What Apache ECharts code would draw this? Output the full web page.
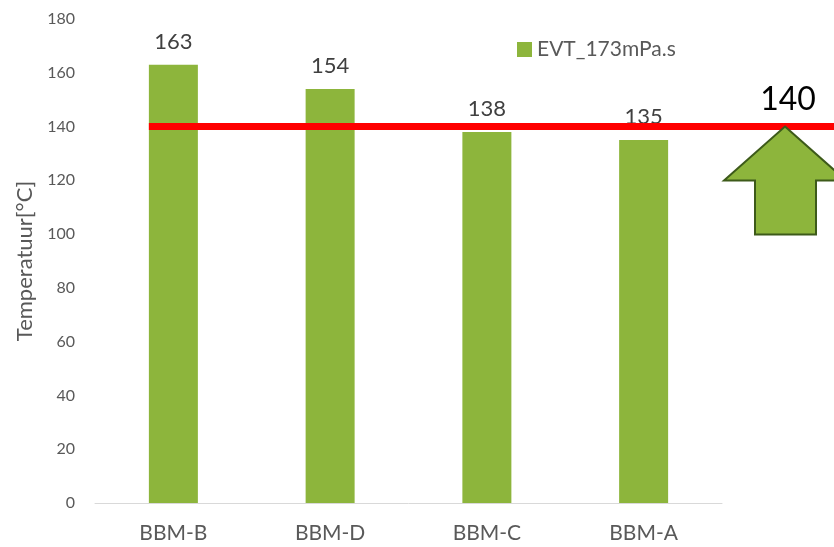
<!DOCTYPE html>
<html>
<head>
<meta charset="utf-8">
<script src="https://cdn.jsdelivr.net/npm/echarts@6/dist/echarts.min.js"></script>
<style>
  html, body { margin: 0; padding: 0; background: #fff; }
  #chart { width: 834px; height: 547px; }
</style>
</head>
<body>
<div id="chart"></div>
<script>
// data
const categories = ['BBM-B', 'BBM-D', 'BBM-C', 'BBM-A'];
const values = [163, 154, 138, 135];
const seriesName = 'EVT_173mPa.s';
const threshold = 140;
const yTicks = { min: 0, max: 180, interval: 20 };

const FONT = 'Lato, "Open Sans", sans-serif';
const GREEN = '#8db53c';
const BAR_WIDTH = 49;

const chart = echarts.init(document.getElementById('chart'), null, { renderer: 'canvas' });

const option = {
  animation: false,
  textStyle: { fontFamily: FONT },
  grid: { left: 95, right: 112, top: 19, bottom: 44 },
  legend: {
    data: [seriesName],
    left: 512,
    top: 34,
    icon: 'rect',
    itemWidth: 15,
    itemHeight: 15,
    itemGap: 6,
    textStyle: { fontSize: 21, color: '#595959', fontFamily: FONT }
  },
  xAxis: {
    type: 'category',
    data: categories,
    axisLine: { lineStyle: { color: '#d9d9d9', width: 1 } },
    axisTick: { show: false },
    axisLabel: { fontSize: 21, color: '#595959', margin: 20, fontFamily: FONT }
  },
  yAxis: {
    type: 'value',
    min: yTicks.min,
    max: yTicks.max,
    interval: yTicks.interval,
    name: 'Temperatuur[°C]',
    nameLocation: 'middle',
    nameGap: 58,
    nameTextStyle: { fontSize: 22, color: '#595959', fontFamily: FONT },
    axisLine: { show: false },
    axisTick: { show: false },
    splitLine: { show: false },
    axisLabel: { fontSize: 16, color: '#595959', margin: 20, fontFamily: FONT }
  },
  series: [{
    name: seriesName,
    type: 'bar',
    data: values,
    barWidth: BAR_WIDTH,
    itemStyle: { color: GREEN },
    label: {
      show: true,
      position: 'top',
      distance: 12,
      fontSize: 22,
      color: '#404040',
      fontFamily: FONT
    }
  }]
};

chart.setOption(option);

// threshold line + arrow, placed from the axis scale
const yLine = chart.convertToPixel({ yAxisIndex: 0 }, threshold);
const xStart = chart.convertToPixel({ xAxisIndex: 0 }, categories[0]) - BAR_WIDTH / 2;
const tipX = 785;
const headY = yLine + 54;
const bottomY = yLine + 108;

chart.setOption({
  graphic: [
    {
      type: 'polygon',
      z: 100,
      shape: {
        points: [
          [tipX, yLine],
          [tipX + 61, headY],
          [tipX + 31, headY],
          [tipX + 31, bottomY],
          [tipX - 30, bottomY],
          [tipX - 30, headY],
          [tipX - 61, headY]
        ]
      },
      style: { fill: GREEN, stroke: '#3d5a1a', lineWidth: 2 }
    },
    {
      type: 'line',
      z: 99,
      shape: { x1: xStart, y1: yLine, x2: 834, y2: yLine },
      style: { stroke: '#ff0000', lineWidth: 7 }
    },
    {
      type: 'text',
      z: 101,
      x: 788,
      y: yLine - 27,
      style: {
        text: String(threshold),
        fontSize: 32,
        fill: '#000',
        fontFamily: FONT,
        align: 'center',
        verticalAlign: 'middle'
      }
    }
  ]
});
</script>
</body>
</html>
